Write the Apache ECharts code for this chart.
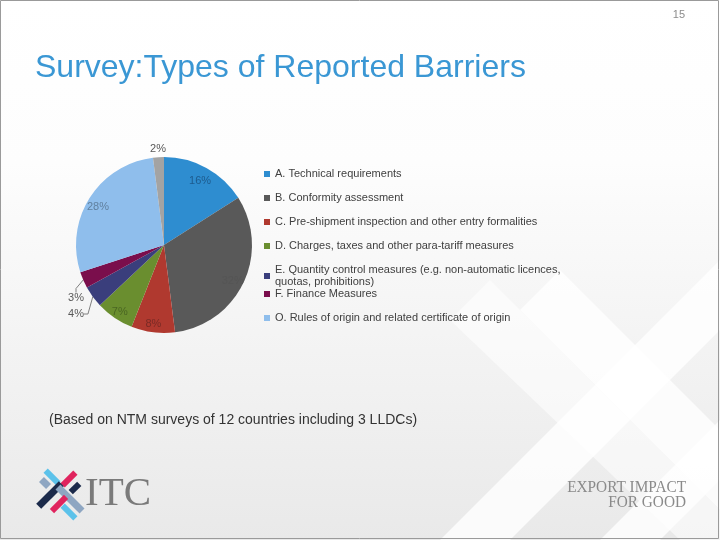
<!DOCTYPE html>
<html>
<head>
<meta charset="utf-8">
<script src="https://cdn.jsdelivr.net/npm/echarts@6/dist/echarts.min.js"></script>
<style>html,body{margin:0;padding:0;background:#fff}#c{width:720px;height:540px}</style>
</head>
<body>
<div id="c"></div>
<script>
// ---- data ----
var categories = [
  'A. Technical requirements',
  'B. Conformity assessment',
  'C. Pre-shipment inspection and other entry formalities',
  'D. Charges, taxes and other para-tariff measures',
  'E. Quantity control measures (e.g. non-automatic licences,\nquotas, prohibitions)',
  'F. Finance Measures',
  'O. Rules of origin and related certificate of origin',
  'Other'
];
var values = [16, 32, 8, 7, 4, 3, 28, 2];
var percentLabels = ['16%', '32%', '8%', '7%', '4%', '3%', '28%', '2%'];
var legendGroup1 = categories.slice(0, 5);
var legendGroup2 = categories.slice(5, 7);

// ---- styles ----
var colors = ['#2E8DD0', '#595959', '#B0392F', '#6A8E2F', '#3A3E7C', '#7A0E4C', '#8FBEEC', '#A3A3A3'];
var innerLabelColors = ['#1d5b8e', '#555555', '#7a2a25', '#4a6623', null, null, '#60809f', null];
var outsideIdx = {4: true, 5: true, 7: true};
var outsidePos = {4: [76, 314], 5: [76, 298], 7: [158, 149]};

function bar(cx, cy, len, w, deg, color) {
  var a = deg * Math.PI / 180;
  var ux = Math.cos(a) * len / 2, uy = Math.sin(a) * len / 2;
  var vx = -Math.sin(a) * w / 2, vy = Math.cos(a) * w / 2;
  return { type: 'polygon', z: 1, shape: { points: [
    [cx - ux - vx, cy - uy - vy], [cx + ux - vx, cy + uy - vy],
    [cx + ux + vx, cy + uy + vy], [cx - ux + vx, cy - uy + vy]] },
    style: { fill: color } };
}

var mainData = categories.map(function (n, i) {
  var d = { name: n, value: values[i], itemStyle: { color: colors[i] } };
  if (outsideIdx[i]) {
    d.label = { show: true, formatter: percentLabels[i], color: '#595959' };
    d.labelLine = { show: i !== 7, lineStyle: { color: '#808080', width: 1 } };
  } else {
    d.label = { show: false };
    d.labelLine = { show: false };
  }
  return d;
});
var labelData = categories.map(function (n, i) {
  var d = { name: n, value: values[i] };
  if (innerLabelColors[i]) {
    d.label = { show: true, formatter: percentLabels[i], color: innerLabelColors[i] };
  } else {
    d.label = { show: false };
  }
  return d;
});

var legendText = { fontFamily: 'Liberation Sans', fontSize: 11, color: '#404040', lineHeight: 12 };

var chart = echarts.init(document.getElementById('c'), null, { renderer: 'canvas' });
chart.setOption({
  animation: false,
  color: colors,
  title: {
    text: 'Survey:Types of Reported Barriers',
    left: 35, top: 49, padding: 0,
    textStyle: { fontFamily: 'Liberation Sans', fontSize: 32, fontWeight: 'normal', color: '#3A97D4', lineHeight: 38 }
  },
  legend: [{
    data: legendGroup1,
    orient: 'vertical', left: 264, top: 168, itemGap: 12, padding: 0,
    icon: 'rect', itemWidth: 6, itemHeight: 6,
    textStyle: legendText,
    selectedMode: false
  }, {
    data: legendGroup2,
    orient: 'vertical', left: 264, top: 288, itemGap: 12, padding: 0,
    icon: 'rect', itemWidth: 6, itemHeight: 6,
    textStyle: legendText,
    selectedMode: false
  }],
  series: [{
    type: 'pie',
    center: [164, 245], radius: [0, 88],
    startAngle: 90, clockwise: true,
    avoidLabelOverlap: false,
    silent: true,
    label: { position: 'outside', fontFamily: 'Liberation Sans', fontSize: 11 },
    labelLine: { length: 4, length2: 4 },
    labelLayout: function (p) {
      var pos = outsidePos[p.dataIndex];
      if (!pos) return {};
      return { x: pos[0], y: pos[1], align: 'center', verticalAlign: 'middle' };
    },
    data: mainData
  }, {
    type: 'pie',
    center: [163, 248], radius: [0, 148],
    startAngle: 90, clockwise: true,
    avoidLabelOverlap: false,
    silent: true,
    itemStyle: { color: 'rgba(0,0,0,0)' },
    label: { position: 'inside', fontFamily: 'Liberation Sans', fontSize: 11 },
    labelLine: { show: false },
    data: labelData
  }],
  graphic: [
    { type: 'rect', z: -10, shape: { x: 0, y: 0, width: 720, height: 540 },
      style: { fill: new echarts.graphic.LinearGradient(0, 0, 0, 1, [
        { offset: 0, color: '#ffffff' }, { offset: 0.3, color: '#fdfdfd' }, { offset: 1, color: '#e9e9e9' }]) } },
    { type: 'polygon', z: -9, shape: { points: [[440, 540], [510, 540], [720, 330], [720, 260]] }, style: { fill: 'rgba(255,255,255,0.8)' } },
    { type: 'polygon', z: -9, shape: { points: [[520, 310], [560, 270], [720, 430], [720, 510]] }, style: { fill: 'rgba(255,255,255,0.8)' } },
    { type: 'polygon', z: -9, shape: { points: [[600, 540], [660, 540], [720, 480], [720, 420]] }, style: { fill: 'rgba(255,255,255,0.8)' } },
    { type: 'polygon', z: -9, shape: { points: [[450, 320], [490, 280], [720, 510], [720, 540], [680, 540]] }, style: { fill: 'rgba(255,255,255,0.55)' } },
    { type: 'rect', z: 5, shape: { x: 0.5, y: 0.5, width: 718, height: 538 }, style: { fill: 'none', stroke: '#9a9a9a', lineWidth: 1 } },
    { type: 'text', z: 5, style: { x: 685, y: 15, text: '15', align: 'right', verticalAlign: 'middle', fontFamily: 'Liberation Sans', fontSize: 11, fill: '#8c8c8c' } },
    { type: 'text', z: 5, style: { x: 49, y: 420, text: '(Based on NTM surveys of 12 countries including 3 LLDCs)', verticalAlign: 'middle', fontFamily: 'Liberation Sans', fontSize: 14, fill: '#333333' } },
    bar(52, 477, 18, 6, 45, '#5CC2EA'),
    bar(45, 483, 10, 7, 45, '#8EA6C2'),
    bar(69, 479, 18, 6, -45, '#E0245E'),
    bar(75, 488, 12, 6, -45, '#1B2A4A'),
    bar(50, 495, 32, 7, -45, '#1B2A4A'),
    bar(70, 499, 34, 7, 45, '#8EA6C2'),
    bar(59, 504, 20, 6, -45, '#E0245E'),
    bar(69, 512, 18, 6, 45, '#5CC2EA'),
    { type: 'text', z: 5, style: { x: 85, y: 494, text: 'ITC', verticalAlign: 'middle', fontFamily: 'Liberation Serif', fontSize: 41, fill: '#7a7a7a' } },
    { type: 'text', z: 5, x: 686, y: 488, scaleX: 0.9, style: { x: 0, y: 0, text: 'EXPORT IMPACT', align: 'right', verticalAlign: 'middle', fontFamily: 'Liberation Serif', fontSize: 17, fill: '#8a8a8a' } },
    { type: 'text', z: 5, x: 686, y: 503, scaleX: 0.9, style: { x: 0, y: 0, text: 'FOR GOOD', align: 'right', verticalAlign: 'middle', fontFamily: 'Liberation Serif', fontSize: 17, fill: '#8a8a8a' } }
  ]
});
</script>
</body>
</html>
